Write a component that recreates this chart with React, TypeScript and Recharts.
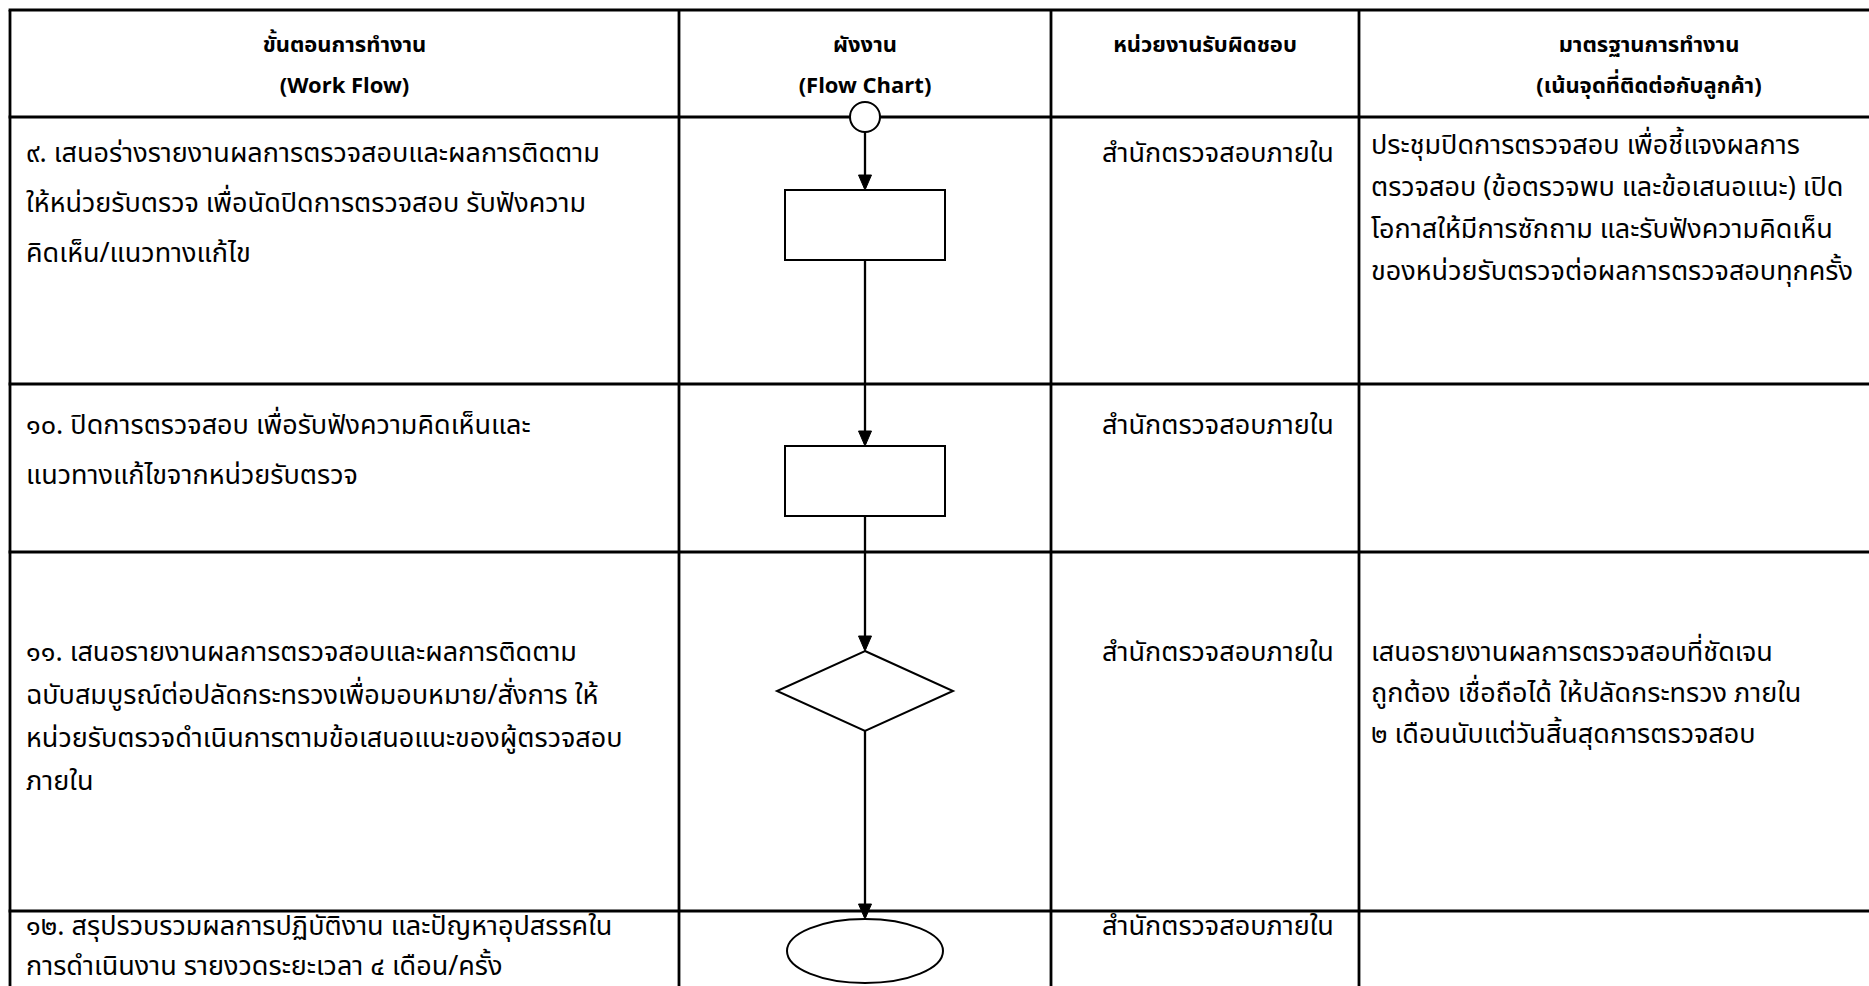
import React from 'react';
import { ComposedChart, XAxis, YAxis, Scatter, ReferenceLine } from 'recharts';

// ---------- content ----------
const headerTitles: string[][] = [
  ['ขั้นตอนการทำงาน', '(Work Flow)'],
  ['ผังงาน', '(Flow Chart)'],
  ['หน่วยงานรับผิดชอบ'],
  ['มาตรฐานการทำงาน', '(เน้นจุดที่ติดต่อกับลูกค้า)'],
];

const stepTexts: string[][] = [
  ['๙. เสนอร่างรายงานผลการตรวจสอบและผลการติดตาม', 'ให้หน่วยรับตรวจ เพื่อนัดปิดการตรวจสอบ รับฟังความ', 'คิดเห็น/แนวทางแก้ไข'],
  ['๑๐. ปิดการตรวจสอบ เพื่อรับฟังความคิดเห็นและ', 'แนวทางแก้ไขจากหน่วยรับตรวจ'],
  ['๑๑. เสนอรายงานผลการตรวจสอบและผลการติดตาม', 'ฉบับสมบูรณ์ต่อปลัดกระทรวงเพื่อมอบหมาย/สั่งการ ให้', 'หน่วยรับตรวจดำเนินการตามข้อเสนอแนะของผู้ตรวจสอบ', 'ภายใน'],
  ['๑๒. สรุปรวบรวมผลการปฏิบัติงาน และปัญหาอุปสรรคใน', 'การดำเนินงาน รายงวดระยะเวลา ๔ เดือน/ครั้ง'],
];

const responsibleUnits: string[] = ['สำนักตรวจสอบภายใน', 'สำนักตรวจสอบภายใน', 'สำนักตรวจสอบภายใน', 'สำนักตรวจสอบภายใน'];

const standards: string[][] = [
  ['ประชุมปิดการตรวจสอบ เพื่อชี้แจงผลการ', 'ตรวจสอบ (ข้อตรวจพบ และข้อเสนอแนะ) เปิด', 'โอกาสให้มีการซักถาม และรับฟังความคิดเห็น', 'ของหน่วยรับตรวจต่อผลการตรวจสอบทุกครั้ง'],
  [],
  ['เสนอรายงานผลการตรวจสอบที่ชัดเจน', 'ถูกต้อง เชื่อถือได้ ให้ปลัดกระทรวง ภายใน', '๒ เดือนนับแต่วันสิ้นสุดการตรวจสอบ'],
  [],
];

const flowShapes: string[] = ['process', 'process', 'decision', 'terminator'];

// ---------- layout (positions / sizes, kept apart from content) ----------
const W = 1869;
const H = 986;
const COL_EDGES = [10, 679, 1051, 1359, 1939];
const ROW_EDGES = [10, 117, 384, 552, 911, 1100];
const FLOW_X = 865;
const START_R = 15;
const SHAPE_LAYOUT = [
  { cy: 225, hw: 80, hh: 35 },
  { cy: 481, hw: 80, hh: 35 },
  { cy: 691, hw: 88, hh: 40 },
  { cy: 951, hw: 78, hh: 32 },
];
const HEADER_LINE_Y = [45, 86];
const FIRST_LINE_Y = [153, 425, 652, 926];
const STEP_LH = [50, 50, 43, 40];
const STD_FIRST_Y = [145, 425, 652, 926];
const STD_LH = [42, 42, 41, 40];
const PAD = 16;
const UNIT_SHIFT = 13;
const FONT = "'Noto Sans Thai', 'Noto Sans Thai UI', 'Noto Sans', 'DejaVu Sans', sans-serif";
const FS = 27;
const HFS = 22;

// ---------- derived series (one point per text line) ----------
const headerPoints: any[] = [];
headerTitles.forEach((lines, i) => {
  lines.forEach((line, k) => {
    headerPoints.push({ x: (COL_EDGES[i] + COL_EDGES[i + 1]) / 2, y: HEADER_LINE_Y[k], line, anchor: 'middle', bold: true });
  });
});

const cellPoints: any[] = [];
stepTexts.forEach((lines, r) => {
  lines.forEach((line, k) => {
    cellPoints.push({ x: COL_EDGES[0] + PAD, y: FIRST_LINE_Y[r] + k * STEP_LH[r], line, anchor: 'start' });
  });
  cellPoints.push({ x: (COL_EDGES[2] + COL_EDGES[3]) / 2 + UNIT_SHIFT, y: FIRST_LINE_Y[r], line: responsibleUnits[r], anchor: 'middle' });
  standards[r].forEach((line, k) => {
    cellPoints.push({ x: COL_EDGES[3] + 12, y: STD_FIRST_Y[r] + k * STD_LH[r], line, anchor: 'start' });
  });
});

const flowPoints = flowShapes.map((kind, i) => ({ x: FLOW_X, y: SHAPE_LAYOUT[i].cy, kind, hw: SHAPE_LAYOUT[i].hw, hh: SHAPE_LAYOUT[i].hh }));
const startPoint = [{ x: FLOW_X, y: ROW_EDGES[1] }];

// connectors: from bottom of previous shape to top of next
const connectors = flowShapes.map((_, i) => {
  const fromY = i === 0 ? ROW_EDGES[1] + START_R : SHAPE_LAYOUT[i - 1].cy + SHAPE_LAYOUT[i - 1].hh;
  const toY = SHAPE_LAYOUT[i].cy - SHAPE_LAYOUT[i].hh;
  return { x: FLOW_X, y1: fromY, y2: toY };
});
const arrowTips = connectors.map((c) => ({ x: c.x, y: c.y2 }));

// ---------- shapes ----------
const TextShape = (props: any) => {
  const { cx, cy, payload } = props;
  return (
    <text
      x={cx}
      y={cy}
      textAnchor={payload.anchor}
      dominantBaseline="central"
      fontFamily={FONT}
      fontSize={payload.bold ? HFS : FS}
      fontWeight={payload.bold ? 700 : 400}
      fill="#000"
    >
      {payload.line}
    </text>
  );
};

const FlowShape = (props: any) => {
  const { cx, cy, payload } = props;
  const { kind, hw, hh } = payload;
  const common = { fill: '#fff', stroke: '#000', strokeWidth: 2 };
  if (kind === 'process') return <rect x={cx - hw} y={cy - hh} width={hw * 2} height={hh * 2} {...common} />;
  if (kind === 'decision')
    return <polygon points={`${cx},${cy - hh} ${cx + hw},${cy} ${cx},${cy + hh} ${cx - hw},${cy}`} {...common} />;
  return <ellipse cx={cx} cy={cy} rx={hw} ry={hh} {...common} />;
};

const StartShape = (props: any) => {
  const { cx, cy } = props;
  return <circle cx={cx} cy={cy} r={START_R} fill="#fff" stroke="#000" strokeWidth={2} />;
};

const ArrowShape = (props: any) => {
  const { cx, cy } = props;
  return <polygon points={`${cx},${cy} ${cx - 6.5},${cy - 15} ${cx + 6.5},${cy - 15}`} fill="#000" stroke="#000" strokeWidth={1} />;
};

export default function App() {
  const gridStroke = { stroke: '#000', strokeWidth: 2.8 };
  return (
    <div style={{ position: 'absolute', left: 0, top: 0, width: W, height: H, background: '#fff' }}>
      <ComposedChart width={W} height={H} margin={{ top: 0, right: 0, bottom: 0, left: 0 }}>
        <XAxis type="number" dataKey="x" domain={[0, W]} hide allowDataOverflow />
        <YAxis type="number" dataKey="y" domain={[0, H]} reversed hide allowDataOverflow />
        {ROW_EDGES.map((y, i) =>
          i === 1 ? (
            <React.Fragment key={'h' + i}>
              <ReferenceLine segment={[{ x: COL_EDGES[0] - 1.4, y }, { x: FLOW_X - START_R, y }]} ifOverflow="visible" {...gridStroke} />
              <ReferenceLine segment={[{ x: FLOW_X + START_R, y }, { x: W, y }]} ifOverflow="visible" {...gridStroke} />
            </React.Fragment>
          ) : (
            <ReferenceLine key={'h' + i} segment={[{ x: COL_EDGES[0] - 1.4, y }, { x: W, y }]} ifOverflow="visible" {...gridStroke} />
          )
        )}
        {COL_EDGES.slice(0, 4).map((x, i) => (
          <ReferenceLine key={'v' + i} segment={[{ x, y: ROW_EDGES[0] }, { x, y: H }]} ifOverflow="visible" {...gridStroke} />
        ))}
        {connectors.map((c, i) => (
          <ReferenceLine key={'c' + i} segment={[{ x: c.x, y: c.y1 }, { x: c.x, y: c.y2 - 2 }]} ifOverflow="visible" stroke="#000" strokeWidth={2.3} />
        ))}
        <Scatter data={startPoint} shape={StartShape} isAnimationActive={false} />
        <Scatter data={flowPoints} shape={FlowShape} isAnimationActive={false} />
        <Scatter data={arrowTips} shape={ArrowShape} isAnimationActive={false} />
        <Scatter data={headerPoints} shape={TextShape} isAnimationActive={false} />
        <Scatter data={cellPoints} shape={TextShape} isAnimationActive={false} />
      </ComposedChart>
    </div>
  );
}
